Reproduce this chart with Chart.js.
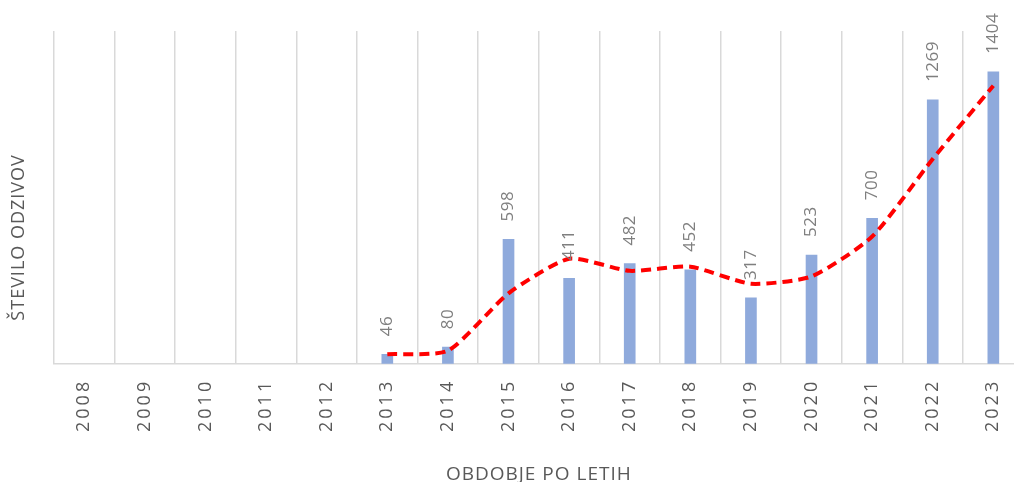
<!DOCTYPE html>
<html>
<head>
<meta charset="utf-8">
<script src="https://cdn.jsdelivr.net/npm/chart.js@4"></script>
<style>
  html, body { margin: 0; padding: 0; background: #fff; overflow: hidden; }
  #wrap { position: relative; width: 1030px; height: 482px; }
</style>
</head>
<body>
<div id="wrap"><canvas id="chart"></canvas></div>
<script>
// leta in število odzivov
const years = ['2008','2009','2010','2011','2012','2013','2014','2015','2016','2017','2018','2019','2020','2021','2022','2023'];
const responses = [null, null, null, null, null, 46, 80, 598, 411, 482, 452, 317, 523, 700, 1269, 1404];
// drseče povprečje (trend)
const trend = [null, null, null, null, null, 46, 63, 339, 505, 447, 467, 385, 420, 612, 985, 1337];

const fontFamily = '"Open Sans", "Noto Sans", sans-serif';

// razmik črk: naslovi malo, letnice na osi bolj
const spacing = {
  id: 'spacing',
  beforeDraw(chart) { chart.ctx.letterSpacing = '1px'; },
  afterDatasetsDraw(chart) { chart.ctx.letterSpacing = '3px'; },
  afterDraw(chart) { chart.ctx.letterSpacing = '0px'; }
};

// naslov navpične osi, nekoliko pod sredino
const yTitle = {
  id: 'yTitle',
  afterDraw(chart) {
    const ctx = chart.ctx;
    const area = chart.chartArea;
    ctx.save();
    ctx.font = '18px ' + fontFamily;
    ctx.fillStyle = '#595959';
    ctx.letterSpacing = '1px';
    ctx.textAlign = 'center';
    ctx.textBaseline = 'middle';
    ctx.translate(19, (area.top + area.bottom) / 2 + 40);
    ctx.rotate(-Math.PI / 2);
    ctx.fillText('ŠTEVILO ODZIVOV', 0, 0);
    ctx.restore();
  }
};

// številke nad stolpci, obrnjene navpično
const barLabels = {
  id: 'barLabels',
  afterDatasetsDraw(chart) {
    const ctx = chart.ctx;
    const meta = chart.getDatasetMeta(1);
    ctx.save();
    ctx.font = '17px ' + fontFamily;
    ctx.fillStyle = '#7f7f7f';
    ctx.letterSpacing = '0.5px';
    ctx.textAlign = 'left';
    ctx.textBaseline = 'middle';
    meta.data.forEach((bar, i) => {
      if (responses[i] == null) return;
      ctx.save();
      ctx.translate(bar.x, bar.y - 18);
      ctx.rotate(-Math.PI / 2);
      ctx.fillText(String(responses[i]), 0, 0);
      ctx.restore();
    });
    ctx.restore();
  }
};

new Chart(document.getElementById('chart'), {
  data: {
    labels: years,
    datasets: [
      {
        type: 'line',
        data: trend,
        borderColor: '#ff0000',
        borderWidth: 4,
        borderDash: [10, 6],
        pointRadius: 0,
        tension: 0.2,
        fill: false,
        order: 0
      },
      {
        type: 'bar',
        data: responses,
        backgroundColor: '#8faadc',
        barThickness: 11,
        order: 1
      }
    ]
  },
  options: {
    responsive: true,
    maintainAspectRatio: false,
    animation: false,
    layout: { padding: { top: 31, right: 2, bottom: 0, left: 54 } },
    plugins: { legend: { display: false }, tooltip: { enabled: false } },
    scales: {
      x: {
        grid: { color: '#d9d9d9', lineWidth: 1.5, drawTicks: false, offset: true },
        border: { color: '#d9d9d9', width: 1.5 },
        ticks: {
          z: 1,
          minRotation: 90, maxRotation: 90, padding: 15,
          color: '#595959', font: { family: fontFamily, size: 18 }
        },
        title: {
          display: true, text: 'OBDOBJE PO LETIH', color: '#595959',
          font: { family: fontFamily, size: 19, lineHeight: 1 },
          padding: { top: 30, bottom: -2 }
        }
      },
      y: {
        display: false,
        min: 0, max: 1600
      }
    }
  },
  plugins: [spacing, yTitle, barLabels]
});
</script>
</body>
</html>
